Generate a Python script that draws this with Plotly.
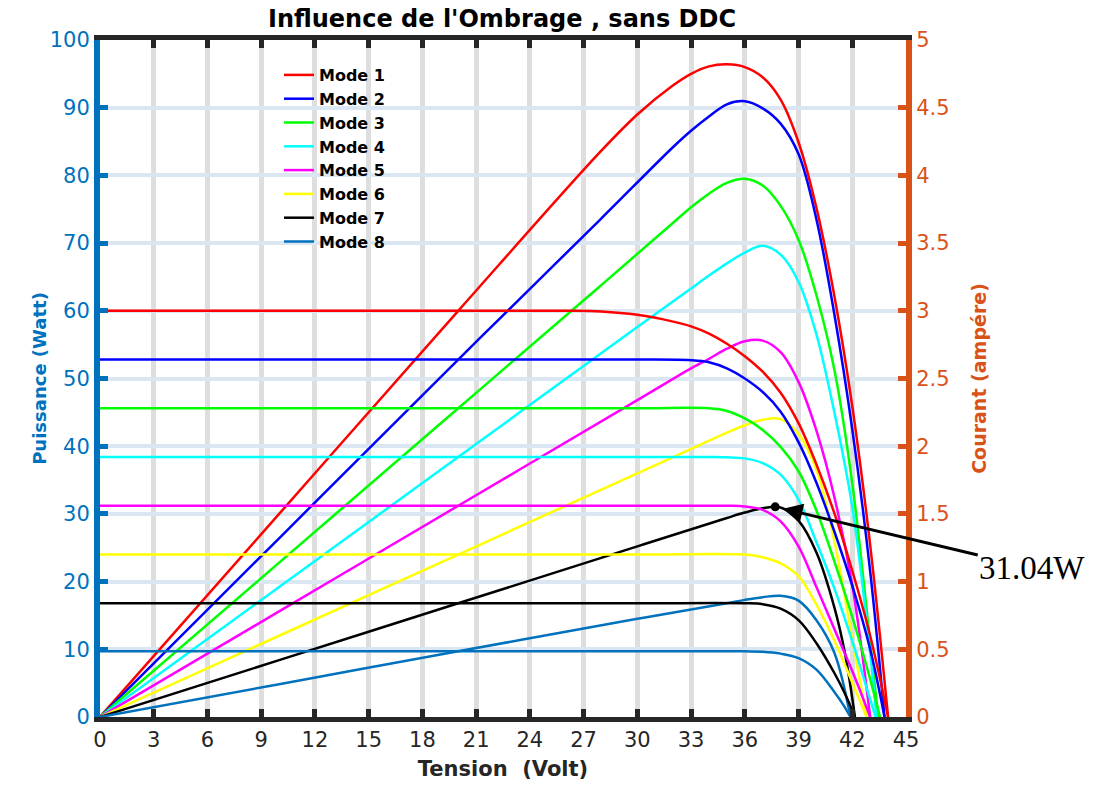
import plotly.graph_objects as go

# ---------------- data ----------------
modes = ["Mode 1", "Mode 2", "Mode 3", "Mode 4", "Mode 5", "Mode 6", "Mode 7", "Mode 8"]
colors = ["#FF0000", "#0000FF", "#00FF00", "#00FFFF", "#FF00FF", "#FFFF00", "#000000", "#0072BD"]

# Current curves I(V)  (ampere, right axis)
v_i1 = [0, 10, 20, 26, 28, 30, 32, 33, 34, 35, 36, 37, 38, 39, 40, 41, 42, 43, 44]
i1 = [3.0, 3.0, 3.0, 3.0, 2.995, 2.97, 2.92, 2.885, 2.832, 2.757, 2.665, 2.55, 2.395, 2.17, 1.865, 1.505, 1.08, 0.6, 0]
v_i2 = [0, 10, 20, 30, 33, 34, 35, 36, 37, 38, 39, 40, 41, 42, 43, 43.8]
i2 = [2.64, 2.64, 2.64, 2.64, 2.635, 2.62, 2.575, 2.5, 2.4, 2.255, 2.03, 1.73, 1.37, 0.97, 0.5, 0]
v_i3 = [0, 10, 20, 30, 34, 35, 36, 37, 38, 39, 40, 41, 42, 43, 43.55]
i3 = [2.28, 2.28, 2.28, 2.28, 2.28, 2.26, 2.205, 2.12, 1.995, 1.815, 1.525, 1.15, 0.74, 0.28, 0]
v_i4 = [0, 10, 20, 30, 34, 35, 36, 37, 38, 39, 40, 41, 42, 43, 43.3]
i4 = [1.92, 1.92, 1.92, 1.92, 1.92, 1.918, 1.91, 1.875, 1.79, 1.605, 1.29, 0.95, 0.56, 0.13, 0]
v_i5 = [0, 10, 20, 30, 35, 36, 37, 38, 39, 40, 41, 42, 43]
i5 = [1.56, 1.56, 1.56, 1.56, 1.56, 1.555, 1.53, 1.445, 1.26, 0.96, 0.65, 0.34, 0]
v_i6 = [0, 10, 20, 30, 36, 37, 38, 39, 40, 41, 42, 42.8]
i6 = [1.2, 1.2, 1.2, 1.2, 1.2, 1.18, 1.135, 1.04, 0.83, 0.565, 0.255, 0]
v_i7 = [0, 10, 20, 30, 36, 37, 38, 39, 40, 41, 41.6, 42.15]
i7 = [0.84, 0.84, 0.84, 0.84, 0.84, 0.833, 0.80, 0.715, 0.545, 0.325, 0.17, 0]
v_i8 = [0, 10, 20, 30, 36, 37, 38, 39, 40, 41, 41.5, 41.9]
i8 = [0.485, 0.485, 0.485, 0.485, 0.485, 0.482, 0.468, 0.435, 0.35, 0.185, 0.09, 0]

# Power curves P(V)  (watt, left axis)
v_p1 = [0, 10, 20, 27.9, 30, 32, 33, 34, 35, 36, 37, 38, 39, 40, 41, 42, 43, 44]
p1 = [0, 30, 60, 83.4, 89, 93.3, 95, 96.1, 96.4, 96.0, 94.5, 91.2, 84.9, 75.2, 62.2, 45.9, 25.4, 0]
v_p2 = [0, 10, 20, 27.9, 32, 33, 34, 35, 36, 37, 38, 39, 40, 41, 42, 43, 43.8]
p2 = [0, 26.4, 52.8, 73.4, 84.2, 86.6, 88.7, 90.5, 90.95, 89.9, 87.65, 83.15, 73.5, 59.5, 42.5, 21.5, 0]
v_p3 = [0, 10, 20, 27.9, 32, 33, 34, 35, 36, 37, 38, 39, 40, 41, 42, 43, 43.45]
p3 = [0, 22.8, 45.6, 63.6, 73, 75.3, 77.3, 78.9, 79.5, 78.5, 75.5, 70.5, 62.3, 51.3, 34.5, 11, 0]
v_p4 = [0, 10, 20, 30, 33, 34, 35, 36, 37, 38, 39, 40, 41, 42, 43, 43.35]
p4 = [0, 19.2, 38.4, 57.6, 63.3, 65.2, 67, 68.6, 69.6, 68.3, 64.3, 56.5, 45, 31, 9.5, 0]
v_p5 = [0, 10, 20, 30, 33, 34, 35, 36, 37, 38, 39, 40, 41, 42, 43]
p5 = [0, 15.6, 31.2, 46.8, 51.5, 52.9, 54.4, 55.5, 55.6, 53.9, 49.5, 42.3, 32.5, 19.5, 0]
v_p6 = [0, 10, 20, 30, 33, 35, 36, 37, 38, 39, 40, 41, 42, 42.8]
p6 = [0, 12, 24, 36, 39.6, 42, 43.1, 43.9, 44.0, 41.8, 36.5, 26.0, 11.5, 0]
v_p7 = [0, 10, 20, 30, 35, 36, 37, 38, 39, 40, 41, 41.6, 42.15]
p7 = [0, 8.4, 16.8, 25.2, 29.4, 30.2, 30.85, 30.95, 29, 24.3, 16.2, 9.3, 0]
v_p8 = [0, 10, 20, 30, 35, 36, 37, 38, 39, 40, 41, 41.9]
p8 = [0, 4.85, 9.7, 14.5, 16.8, 17.3, 17.7, 17.9, 17.2, 14.3, 9.5, 0]

mpp_v = [37.7]
mpp_p = [31.04]
mpp_label = "31.04W"

x_ticks = list(range(0, 46, 3))

v_i = [v_i1, v_i2, v_i3, v_i4, v_i5, v_i6, v_i7, v_i8]
i_s = [i1, i2, i3, i4, i5, i6, i7, i8]
v_p = [v_p1, v_p2, v_p3, v_p4, v_p5, v_p6, v_p7, v_p8]
p_s = [p1, p2, p3, p4, p5, p6, p7, p8]

BLUE = "#0072BD"
ORANGE = "#D95319"
DARK = "#262626"
FONT = "DejaVu Sans, Arial, sans-serif"

fig = go.Figure()
for k in range(8):
    fig.add_trace(go.Scatter(
        x=v_p[k], y=p_s[k], mode="lines", name=modes[k], legendgroup=modes[k],
        line=dict(color=colors[k], width=2.5, shape="spline", smoothing=1.0),
        yaxis="y", showlegend=True, hoverinfo="skip"))
for k in range(8):
    fig.add_trace(go.Scatter(
        x=v_i[k], y=i_s[k], mode="lines", name=modes[k], legendgroup=modes[k],
        line=dict(color=colors[k], width=2.5, shape="spline", smoothing=1.0),
        yaxis="y2", showlegend=False, hoverinfo="skip"))

fig.add_trace(go.Scatter(x=mpp_v, y=mpp_p, mode="markers", yaxis="y",
                         marker=dict(color="black", size=9), showlegend=False,
                         hoverinfo="skip"))

fig.add_annotation(x=mpp_v[0], y=mpp_p[0], xref="x", yref="y",
                   text=mpp_label, showarrow=True, arrowhead=2, arrowsize=1.3,
                   arrowwidth=3, arrowcolor="black", standoff=8,
                   ax=257, ay=61,
                   font=dict(family="Liberation Serif, Times New Roman, serif",
                             size=33, color="black"))

fig.update_layout(
    width=1100, height=787,
    margin=dict(l=100, r=194, t=40, b=70),
    plot_bgcolor="white", paper_bgcolor="white",
    font=dict(family=FONT),
    title=dict(text="<b>Influence de l'Ombrage , sans DDC</b>",
               x=502 / 1100, xanchor="center", y=1 - 19 / 787, yanchor="middle",
               font=dict(size=24, color="black", family=FONT)),
    showlegend=True,
    legend=dict(x=(279 - 100) / 806, y=(717 - 58) / 677, xanchor="left", yanchor="top",
                bgcolor="rgba(0,0,0,0)", borderwidth=0,
                font=dict(size=16, color="black", family=FONT, weight="bold"),
                tracegroupgap=0),
    xaxis=dict(range=[0, 45], tickmode="array", tickvals=x_ticks, automargin=False,
               ticks="inside", ticklen=8, tickwidth=5, tickcolor=DARK,
               showline=True, linewidth=5, linecolor=DARK, mirror="ticks",
               showgrid=True, gridcolor="#dedede", gridwidth=5, zeroline=False,
               tickfont=dict(size=21, color=DARK, family=FONT),
               title=dict(text="<b>Tension\u00a0 (Volt)</b>", standoff=12,
                          font=dict(size=21, color=DARK, family=FONT))),
    yaxis=dict(range=[0, 100], dtick=10, automargin=False,
               ticks="inside", ticklen=8, tickwidth=5, tickcolor=BLUE,
               showline=True, linewidth=6, linecolor=BLUE,
               showgrid=True, gridcolor="#dae6f2", gridwidth=4, zeroline=False,
               tickfont=dict(size=21, color=BLUE, family=FONT),
               title=dict(text="<b>Puissance (Watt)</b>", standoff=0,
                          font=dict(size=18, color=BLUE, family=FONT))),
    yaxis2=dict(range=[0, 5], dtick=0.5, overlaying="y", side="right", automargin=False,
                ticks="inside", ticklen=8, tickwidth=5, tickcolor=ORANGE,
                showline=True, linewidth=6, linecolor=ORANGE,
                showgrid=False, zeroline=False,
                tickfont=dict(size=21, color=ORANGE, family=FONT),
                title=dict(text="<b>Courant (ampére)</b>", standoff=26,
                           font=dict(size=19, color=ORANGE, family=FONT))),
)

fig.write_html("out.html")
